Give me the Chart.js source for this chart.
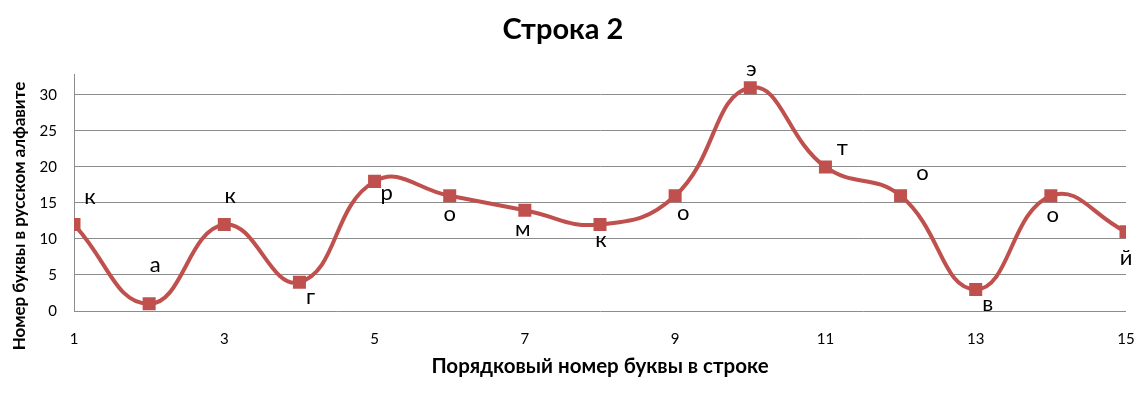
<!DOCTYPE html>
<html>
<head>
<meta charset="utf-8">
<script src="https://cdn.jsdelivr.net/npm/chart.js@4/dist/chart.umd.min.js"></script>
<style>
html,body{margin:0;padding:0;background:#fff;}
#wrap{width:1145px;height:393px;position:relative;}
</style>
</head>
<body>
<div id="wrap"><canvas id="c" width="1145" height="393"></canvas></div>
<script>
// ---- data ----
const positions = [1,2,3,4,5,6,7,8,9,10,11,12,13,14,15];
const letterNumbers = [12,1,12,4,18,16,14,12,16,31,20,16,3,16,11];
const letters = ['к','а','к','г','р','о','м','к','о','э','т','о','в','о','й'];
const xTickValues = [1,3,5,7,9,11,13,15];
const yTickValues = [0,5,10,15,20,25,30];
const chartTitle = 'Строка 2';
const xTitle = 'Порядковый номер буквы в строке';
const yTitle = 'Номер буквы в русском алфавите';

// label placement offsets (pixels, style only)
const labelOffsets = [[16,-28],[6,-39],[6,-29],[11,15],[12,12],[0,18],[-2,19],[1,15],[8,17],[1,-19],[17,-19],[22,-23],[12,15],[2,19],[0,26]];

const FONT = 'Lato, "Open Sans", sans-serif';
const RED = '#C0504D';

const labelPlugin = {
  id: 'letterLabels',
  afterDatasetsDraw(chart) {
    const ctx = chart.ctx;
    const meta = chart.getDatasetMeta(0);
    ctx.save();
    ctx.font = '22px ' + FONT;
    ctx.fillStyle = '#000';
    ctx.textAlign = 'center';
    ctx.textBaseline = 'middle';
    meta.data.forEach((pt, i) => {
      const o = labelOffsets[i];
      ctx.fillText(letters[i], pt.x + o[0], pt.y + o[1]);
    });
    ctx.restore();
  }
};

const yTitlePlugin = {
  id: 'yTitle',
  afterDraw(chart) {
    const ctx = chart.ctx;
    ctx.save();
    ctx.translate(20, 216);
    ctx.rotate(-Math.PI/2);
    ctx.font = 'bold 17px ' + FONT;
    ctx.fillStyle = '#000';
    ctx.textAlign = 'center';
    ctx.textBaseline = 'middle';
    ctx.fillText(yTitle, 0, 0);
    ctx.restore();
  }
};

new Chart(document.getElementById('c'), {
  type: 'line',
  data: {
    datasets: [{
      data: positions.map((x, i) => ({x: x, y: letterNumbers[i]})),
      borderColor: RED,
      backgroundColor: RED,
      borderWidth: 4,
      tension: 0.45,
      pointStyle: 'rect',
      pointRadius: 9.2,
      pointHoverRadius: 9.2,
      pointBorderWidth: 0,
      pointBackgroundColor: RED,
      fill: false
    }]
  },
  options: {
    responsive: false,
    animation: false,
    events: [],
    layout: {padding: {left: 0, right: 19, top: 0, bottom: 10}},
    plugins: {
      legend: {display: false},
      tooltip: {enabled: false},
      title: {
        display: true,
        text: chartTitle,
        color: '#000',
        font: {family: FONT, size: 29, weight: 'bold'},
        padding: {top: 12, bottom: 28}
      }
    },
    scales: {
      x: {
        type: 'linear',
        min: 1, max: 15,
        afterBuildTicks(scale) { scale.ticks = xTickValues.map(v => ({value: v})); },
        afterFit(scale) { scale.height = 72; scale.paddingRight = 0; scale.paddingLeft = 0; },
        grid: {display: false, drawTicks: false},
        border: {display: false},
        ticks: {color: '#000', font: {family: FONT, size: 15}, padding: 19, maxRotation: 0, autoSkip: false},
        title: {display: true, text: xTitle, color: '#000', font: {family: FONT, size: 20.5, weight: 'bold'}, padding: {top: 4}}
      },
      y: {
        min: 0, max: 32.8,
        afterBuildTicks(scale) { scale.ticks = yTickValues.map(v => ({value: v})); },
        afterFit(scale) { scale.width = 74; },
        grid: {color: '#8c8c8c', lineWidth: 1, drawTicks: false},
        border: {display: true, color: '#8c8c8c', width: 1},
        ticks: {color: '#000', font: {family: FONT, size: 15}, padding: 17}
      }
    }
  },
  plugins: [labelPlugin, yTitlePlugin]
});
</script>
</body>
</html>
